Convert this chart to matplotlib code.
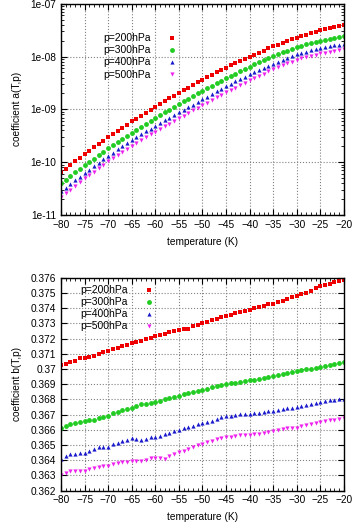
# coefficients a(T,p) and b(T,p) vs temperature for several pressures

import matplotlib
matplotlib.use('Agg')
import matplotlib.pyplot as plt
from matplotlib.ticker import MultipleLocator, FuncFormatter, LogLocator
import numpy as np

plt.rcParams['font.family'] = ['Liberation Sans', 'DejaVu Sans']

temperature = np.arange(-80, -19)
labels = ['p=200hPa', 'p=300hPa', 'p=400hPa', 'p=500hPa']

# log10 of coefficient a(T,p)
log_a_200 = [-10.190, -10.122, -10.054, -9.986, -9.918, -9.850, -9.786, -9.722, -9.658, -9.594,
             -9.530, -9.470, -9.410, -9.350, -9.290, -9.230, -9.174, -9.118, -9.062, -9.006,
             -8.950, -8.898, -8.846, -8.794, -8.742, -8.690, -8.640, -8.590, -8.540, -8.490,
             -8.440, -8.394, -8.348, -8.302, -8.256, -8.210, -8.168, -8.126, -8.084, -8.042,
             -8.000, -7.962, -7.924, -7.886, -7.848, -7.810, -7.776, -7.742, -7.708, -7.674,
             -7.640, -7.612, -7.584, -7.556, -7.528, -7.500, -7.480, -7.460, -7.440, -7.420,
             -7.400]
log_a_300 = [-10.400, -10.332, -10.264, -10.196, -10.128, -10.060, -9.996, -9.932, -9.868, -9.804,
             -9.740, -9.680, -9.620, -9.560, -9.500, -9.440, -9.384, -9.328, -9.272, -9.216,
             -9.160, -9.108, -9.056, -9.004, -8.952, -8.900, -8.850, -8.800, -8.750, -8.700,
             -8.650, -8.602, -8.554, -8.506, -8.458, -8.410, -8.366, -8.322, -8.278, -8.234,
             -8.190, -8.150, -8.110, -8.070, -8.030, -7.990, -7.956, -7.922, -7.888, -7.854,
             -7.820, -7.796, -7.772, -7.748, -7.724, -7.700, -7.682, -7.664, -7.646, -7.628,
             -7.610]
log_a_400 = [-10.550, -10.482, -10.414, -10.346, -10.278, -10.210, -10.144, -10.078, -10.012, -9.946,
             -9.880, -9.820, -9.760, -9.700, -9.640, -9.580, -9.526, -9.472, -9.418, -9.364,
             -9.310, -9.260, -9.210, -9.160, -9.110, -9.060, -9.010, -8.960, -8.910, -8.860,
             -8.810, -8.760, -8.710, -8.660, -8.610, -8.560, -8.516, -8.472, -8.428, -8.384,
             -8.340, -8.300, -8.260, -8.220, -8.180, -8.140, -8.104, -8.068, -8.032, -7.996,
             -7.960, -7.934, -7.908, -7.882, -7.856, -7.830, -7.816, -7.802, -7.788, -7.774,
             -7.760]
log_a_500 = [-10.660, -10.590, -10.520, -10.450, -10.380, -10.310, -10.244, -10.178, -10.112, -10.046,
             -9.980, -9.922, -9.864, -9.806, -9.748, -9.690, -9.636, -9.582, -9.528, -9.474,
             -9.420, -9.370, -9.320, -9.270, -9.220, -9.170, -9.120, -9.070, -9.020, -8.970,
             -8.920, -8.872, -8.824, -8.776, -8.728, -8.680, -8.634, -8.588, -8.542, -8.496,
             -8.450, -8.408, -8.366, -8.324, -8.282, -8.240, -8.204, -8.168, -8.132, -8.096,
             -8.060, -8.036, -8.012, -7.988, -7.964, -7.940, -7.924, -7.908, -7.892, -7.876,
             -7.860]

# coefficient b(T,p)
b_200 = [0.37025, 0.37035, 0.37045, 0.37055, 0.37070, 0.37075, 0.37080, 0.37085, 0.37095, 0.37110,
         0.37120, 0.37130, 0.37140, 0.37150, 0.37160, 0.37170, 0.37175, 0.37185, 0.37195, 0.37205,
         0.37215, 0.37220, 0.37230, 0.37240, 0.37250, 0.37255, 0.37260, 0.37265, 0.37280, 0.37290,
         0.37300, 0.37310, 0.37320, 0.37330, 0.37340, 0.37350, 0.37355, 0.37365, 0.37375, 0.37380,
         0.37390, 0.37400, 0.37405, 0.37415, 0.37425, 0.37430, 0.37440, 0.37450, 0.37460, 0.37470,
         0.37480, 0.37490, 0.37500, 0.37510, 0.37530, 0.37545, 0.37550, 0.37560, 0.37570, 0.37580,
         0.37585]
b_300 = [0.36614, 0.36627, 0.36638, 0.36643, 0.36649, 0.36656, 0.36662, 0.36667, 0.36676, 0.36684,
         0.36693, 0.36708, 0.36719, 0.36728, 0.36735, 0.36741, 0.36754, 0.36767, 0.36770, 0.36776,
         0.36781, 0.36789, 0.36800, 0.36806, 0.36815, 0.36822, 0.36833, 0.36840, 0.36849, 0.36855,
         0.36862, 0.36869, 0.36878, 0.36886, 0.36892, 0.36898, 0.36904, 0.36909, 0.36914, 0.36919,
         0.36924, 0.36930, 0.36936, 0.36942, 0.36948, 0.36954, 0.36961, 0.36968, 0.36975, 0.36982,
         0.36988, 0.36993, 0.36997, 0.37002, 0.37007, 0.37013, 0.37019, 0.37026, 0.37032, 0.37038,
         0.37044]
b_400 = [0.36410, 0.36430, 0.36443, 0.36443, 0.36445, 0.36447, 0.36463, 0.36474, 0.36483, 0.36485,
         0.36489, 0.36507, 0.36514, 0.36524, 0.36533, 0.36546, 0.36537, 0.36529, 0.36542, 0.36551,
         0.36555, 0.36561, 0.36570, 0.36579, 0.36590, 0.36601, 0.36610, 0.36618, 0.36627, 0.36636,
         0.36643, 0.36649, 0.36658, 0.36671, 0.36684, 0.36689, 0.36691, 0.36698, 0.36702, 0.36704,
         0.36702, 0.36707, 0.36711, 0.36716, 0.36720, 0.36724, 0.36728, 0.36735, 0.36741, 0.36746,
         0.36748, 0.36759, 0.36763, 0.36766, 0.36774, 0.36781, 0.36790, 0.36796, 0.36798, 0.36803,
         0.36805]
b_500 = [0.36300, 0.36318, 0.36328, 0.36331, 0.36331, 0.36331, 0.36344, 0.36351, 0.36355, 0.36362,
         0.36364, 0.36375, 0.36384, 0.36388, 0.36390, 0.36393, 0.36395, 0.36393, 0.36401, 0.36414,
         0.36417, 0.36414, 0.36410, 0.36427, 0.36438, 0.36452, 0.36463, 0.36474, 0.36489, 0.36498,
         0.36507, 0.36518, 0.36526, 0.36537, 0.36544, 0.36553, 0.36555, 0.36561, 0.36566, 0.36568,
         0.36566, 0.36570, 0.36575, 0.36579, 0.36588, 0.36592, 0.36597, 0.36603, 0.36610, 0.36614,
         0.36614, 0.36623, 0.36632, 0.36636, 0.36643, 0.36650, 0.36654, 0.36661, 0.36663, 0.36669,
         0.36676]

colors = ['#ee0000', '#22cc22', '#1a1acc', '#ee22ee']
markers = ['s', 'o', '^', 'v']
msizes = [3.4, 3.5, 3.0, 3.0]


def style_axes(ax):
	ax.set_xlim(-80, -20)
	ax.xaxis.set_major_locator(MultipleLocator(5))
	ax.xaxis.set_minor_locator(MultipleLocator(1))
	ax.tick_params(which='both', direction='in', top=True, right=True, labelsize=7.3)
	ax.tick_params(which='major', length=4)
	ax.tick_params(which='minor', length=2)
	ax.grid(True, which='major', color='#808080', linestyle=':', linewidth=0.8)
	for sp in ax.spines.values():
		sp.set_linewidth(1.0)
	ax.set_xlabel('temperature (K)', fontsize=7.3, labelpad=5)


fig = plt.figure(figsize=(3.59, 5.32), dpi=100)
ax1 = fig.add_axes([0.170, 0.596, 0.788, 0.397])
ax2 = fig.add_axes([0.170, 0.078, 0.788, 0.400])

log_a = [log_a_200, log_a_300, log_a_400, log_a_500]
for i in range(4):
	ax1.plot(temperature, 10.0 ** np.array(log_a[i]), linestyle='none', marker=markers[i],
			 markersize=msizes[i], color=colors[i], markeredgewidth=0, label=labels[i])
ax1.set_yscale('log')
ax1.set_ylim(1e-11, 1e-7)
ax1.yaxis.set_major_locator(LogLocator(base=10, numticks=10))
ax1.yaxis.set_minor_locator(LogLocator(base=10, subs=np.arange(2, 10), numticks=10))
ax1.yaxis.set_major_formatter(FuncFormatter(lambda v, _: '%.0e' % v))
ax1.set_ylabel('coefficient a(T,p)', fontsize=7.3, labelpad=6)
style_axes(ax1)
ax1.legend(loc='upper left', bbox_to_anchor=(0.148, 0.86), frameon=False, fontsize=7.5,
		   markerfirst=False, handlelength=1.0, handletextpad=1.6, labelspacing=0.2,
		   borderpad=0, borderaxespad=0)

b = [b_200, b_300, b_400, b_500]
for i in range(4):
	ax2.plot(temperature, b[i], linestyle='none', marker=markers[i],
			 markersize=msizes[i], color=colors[i], markeredgewidth=0, label=labels[i])
ax2.set_ylim(0.362, 0.376)
ax2.yaxis.set_major_locator(MultipleLocator(0.001))
ax2.yaxis.set_major_formatter(FuncFormatter(lambda v, _: '%g' % round(v, 3)))
ax2.set_ylabel('coefficient b(T,p)', fontsize=7.3, labelpad=6)
style_axes(ax2)
ax2.legend(loc='upper left', bbox_to_anchor=(0.067, 0.965), frameon=False, fontsize=7.5,
		   markerfirst=False, handlelength=1.0, handletextpad=1.6, labelspacing=0.2,
		   borderpad=0, borderaxespad=0)

fig.savefig('out.png', dpi=100)
